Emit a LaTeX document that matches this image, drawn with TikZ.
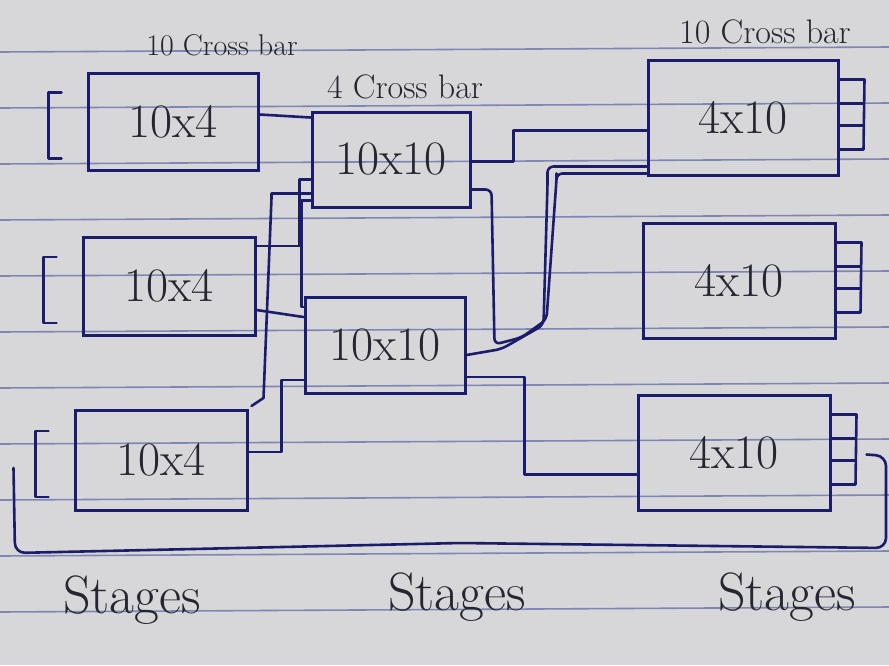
\documentclass[tikz,border=0pt]{standalone}
\usepackage{fontspec}
\usetikzlibrary{positioning, calc}
\definecolor{paper}{RGB}{215,215,217}
\definecolor{rule}{RGB}{128,134,180}
\definecolor{ink}{RGB}{28,28,108}
\definecolor{pencil}{RGB}{38,38,48}
\tikzset{
  xbar/.style={draw=ink, line width=3pt, text=pencil, font=\fontsize{48}{50}\selectfont},
  wire/.style={draw=ink, line width=2.6pt, line join=round, line cap=round},
  lbl/.style={text=pencil, font=\fontsize{30}{32}\selectfont, anchor=base},
  stage/.style={text=pencil, font=\fontsize{54}{56}\selectfont, anchor=base},
}
\begin{document}
\begin{tikzpicture}[x=1pt, y=-1pt]
  \useasboundingbox (0,0) rectangle (889,665);
  \fill[paper] (0,0) rectangle (889,665);
  % ruled lines of the page
  \foreach \k in {0,...,10}
    \draw[rule, line width=1.6pt] (0,52+56*\k) -- (889,47+56*\k);

  % stage one
  \node[xbar, minimum width=170pt, minimum height=97pt] (l1) at (173,121.5) {10x4};
  \node[xbar, minimum width=172pt, minimum height=98pt] (l2) at (169,286) {10x4};
  \node[xbar, minimum width=172pt, minimum height=100pt] (l3) at (161,460) {10x4};
  % stage two
  \node[xbar, minimum width=158pt, minimum height=95pt] (m1) at (391,159.5) {10x10};
  \node[xbar, minimum width=160pt, minimum height=96pt] (m2) at (385,345) {10x10};
  % stage three
  \node[xbar, minimum width=190pt, minimum height=115pt] (r1) at (743,117.5) {4x10};
  \node[xbar, minimum width=192pt, minimum height=115pt] (r2) at (739,280.5) {4x10};
  \node[xbar, minimum width=192pt, minimum height=115pt] (r3) at (734,452.5) {4x10};

  \node[lbl] (t1) at ($(l1.north)+(49,-16)$) {10 Cross bar};
  \node[lbl, font=\fontsize{34}{36}\selectfont] (t2) at ($(m1.north)+(14,-12)$) {4 Cross bar};
  \node[lbl, font=\fontsize{34}{36}\selectfont] (t3) at ($(r1.north)+(22,-15)$) {10 Cross bar};

  % inputs and outputs
  \foreach \b in {l1,l2,l3}
    \draw[wire] ($(\b.west)+(-25,-29)$) -- ++(-13,0) -- ++(0,66) -- ++(13,0);
  \foreach \b in {r1,r2,r3}{
    \draw[wire] ($(\b.east)+(0,-38)$) -- ++(25,0) -- ++(-1,70) -- ++(-24,0);
    \draw[wire] ($(\b.east)+(0,-14)$) -- ++(24,0);
    \draw[wire] ($(\b.east)+(0,8)$) -- ++(24,0);
  }

  % stage one to stage two
  \draw[wire] ($(l1.east)+(0,-7)$) -- ($(m1.west)+(0,-42)$);
  \draw[wire] ($(l2.east)+(0,-40)$) -- ++(43,0) |- ($(m1.west)+(0,20)$);
  \draw[wire] ($(l3.east)+(3,-54)$) -- ++(12,-8) -- ++(8,-200) |- ($(m1.west)+(0,34)$);
  \draw[wire] ($(m1.south west)+(0,-8)$) -- ++(-9,0) |- ($(m2.west)+(0,-38)$);
  \draw[wire] ($(l2.east)+(0,24)$) -- ($(m2.west)+(0,-28)$);
  \draw[wire] ($(l3.east)+(0,-8)$) -- ++(33,0) |- ($(m2.west)+(0,35)$);

  % stage two to stage three
  \draw[wire] ($(m1.east)+(0,2)$) -- ++(42,0) |- ($(r1.west)+(0,13)$);
  \draw[wire, rounded corners=6pt] ($(m1.east)+(0,30)$) -- ++(20,0) -- ++(3,155)
    -- ++(27,-7) -- ++(25,-18) -- ++(10,-140) |- ($(r1.south west)+(0,-3)$);
  \draw[wire, rounded corners=6pt] ($(m2.east)+(0,10)$) -- ++(35,-6) -- ++(42,-24)
    -- ++(4,-140) |- ($(r1.west)+(0,49)$);
  \draw[wire] ($(m2.east)+(0,32)$) -- ++(58,0) |- ($(r3.west)+(0,22)$);

  % loop back
  \coordinate (fbR) at ($(r3.east)+(35,2)$);
  \coordinate (fbL) at ($(l3.west)+(-60,8)$);
  \draw[wire, rounded corners=10pt] (fbR) -- (886,456) -- (886,548) -- (460,543)
    -- (15,553) -- (fbL);

  \node[stage] (s1) at (132,613) {Stages};
  \node[stage] (s2) at (457,610) {Stages};
  \node[stage] (s3) at (787,610) {Stages};
\end{tikzpicture}
\end{document}
